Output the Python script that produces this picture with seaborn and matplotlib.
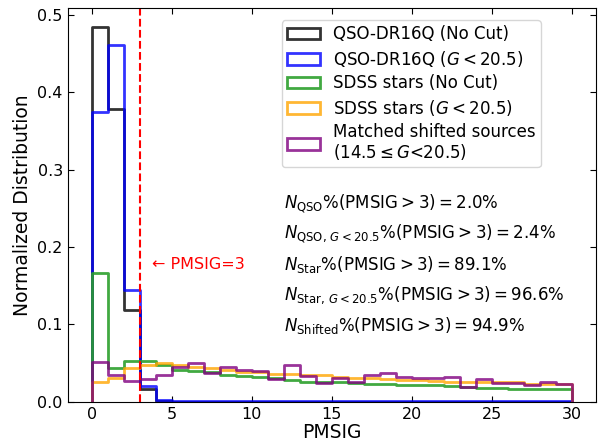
import numpy as np
import pandas as pd
import matplotlib
matplotlib.use("Agg")
import matplotlib.pyplot as plt
import seaborn as sns
from matplotlib.patches import Patch

# ---- data (bin heights, bin width = 1, PMSIG 0..30) ----
bin_edges = list(range(0, 31))
qso_nocut = [0.485, 0.379, 0.118, 0.0165, 0.001] + [0.0] * 25
qso_g205 = [0.374, 0.461, 0.145, 0.020, 0.002] + [0.0003] * 25
stars_nocut = [0.167, 0.043, 0.053, 0.052, 0.048, 0.041, 0.040, 0.038, 0.035, 0.033,
               0.032, 0.030, 0.028, 0.026, 0.026, 0.025, 0.024, 0.0235, 0.023, 0.022,
               0.022, 0.021, 0.020, 0.019, 0.0182, 0.0175, 0.017, 0.0165, 0.0162, 0.016]
stars_g205 = [0.026, 0.031, 0.043, 0.047, 0.050, 0.047, 0.045, 0.043, 0.041, 0.039,
              0.038, 0.036, 0.036, 0.035, 0.034, 0.0325, 0.030, 0.030, 0.029, 0.028,
              0.028, 0.027, 0.026, 0.026, 0.025, 0.025, 0.025, 0.023, 0.0223, 0.0223]
shifted = [0.051, 0.035, 0.027, 0.029, 0.034, 0.045, 0.050, 0.037, 0.045, 0.041,
           0.040, 0.029, 0.048, 0.033, 0.024, 0.030, 0.025, 0.035, 0.037, 0.032,
           0.031, 0.031, 0.032, 0.019, 0.0295, 0.024, 0.024, 0.0215, 0.0253, 0.023]

labels = ["QSO-DR16Q (No Cut)", "QSO-DR16Q ($G<20.5$)", "SDSS stars (No Cut)",
          "SDSS stars ($G<20.5$)", "Matched shifted sources\n(14.5$\\leq G$<20.5)"]
colors = ["black", "blue", "tab:green", "orange", "purple"]
alphas = [0.8, 0.8, 0.9, 0.8, 0.8]
series = [qso_nocut, qso_g205, stars_nocut, stars_g205, shifted]

annotations = [r"$N_{\rm QSO}\%({\rm PMSIG}>3)=2.0\%$",
               r"$N_{{\rm QSO},\,G<20.5}\%({\rm PMSIG}>3)=2.4\%$",
               r"$N_{\rm Star}\%({\rm PMSIG}>3)=89.1\%$",
               r"$N_{{\rm Star},\,G<20.5}\%({\rm PMSIG}>3)=96.6\%$",
               r"$N_{\rm Shifted}\%({\rm PMSIG}>3)=94.9\%$"]
annot_y = [0.256, 0.217, 0.178, 0.138, 0.099]
cut_value = 3

edges = np.array(bin_edges, dtype=float)
centers = (edges[:-1] + edges[1:]) / 2

fig = plt.figure(figsize=(6.04, 4.42), dpi=100)
ax = fig.add_axes([0.1121, 0.0912, 0.8742, 0.8907])

for vals, col, a in zip(series, colors, alphas):
    df = pd.DataFrame({"PMSIG": centers, "w": np.asarray(vals, dtype=float)})
    sns.histplot(data=df, x="PMSIG", weights="w", binwidth=1,
                 binrange=(edges[0], edges[-1]), element="step",
                 fill=False, color=col, alpha=a, linewidth=2, ax=ax)
    line = ax.lines[-1]
    x, y = np.asarray(line.get_xdata()), np.asarray(line.get_ydata())
    line.set_data(np.concatenate([[x[0]], x, [x[-1]]]),
                  np.concatenate([[0.0], y, [0.0]]))

ax.axvline(cut_value, color="red", linestyle="--", linewidth=1.5)
ax.text(3.75, 0.178, "\u2190 PMSIG=3", color="red", fontsize=11.5, va="center")

for t, yy in zip(annotations, annot_y):
    ax.text(12.0, yy, t, fontsize=12, va="center")

handles = [Patch(facecolor="none", edgecolor=c, linewidth=2, alpha=a)
           for c, a in zip(colors, alphas)]
leg = ax.legend(handles, labels, loc="upper right", fontsize=12,
                bbox_to_anchor=(0.896, 0.969), borderaxespad=0.0,
                labelspacing=0.33, borderpad=0.3)
leg.get_texts()[-1].set_linespacing(1.05)

ax.set_xlim(-1.5, 31.5)
ax.set_ylim(0, 0.509)
ax.set_xticks([0, 5, 10, 15, 20, 25, 30])
ax.set_yticks([0.0, 0.1, 0.2, 0.3, 0.4, 0.5])
ax.tick_params(direction="in", top=True, right=True, labelsize=11.5, length=4)
ax.set_xlabel("PMSIG", fontsize=13.5, labelpad=1)
ax.set_ylabel("Normalized Distribution", fontsize=13.5)

fig.savefig("out.png", dpi=100)
